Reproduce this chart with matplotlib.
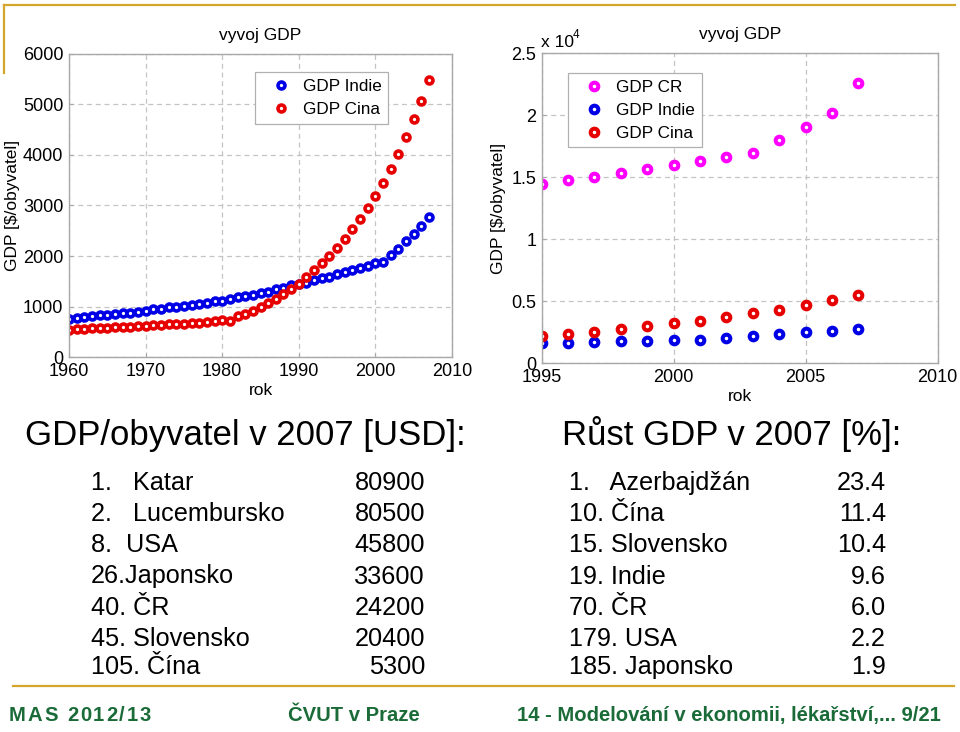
import numpy as np
import matplotlib
matplotlib.use("Agg")
import matplotlib.pyplot as plt
from matplotlib.font_manager import FontProperties

plt.rcParams['font.family'] = ['Liberation Sans', 'DejaVu Sans']

# ---- data: left chart (1960-2007) ----
years_long = list(range(1960, 2008))
gdp_indie_long = [764, 770, 790, 810, 830, 830, 850, 870, 883, 896,
                  909, 955, 962, 988, 995, 1021, 1027, 1047, 1080, 1106,
                  1120, 1146, 1185, 1212, 1232, 1265, 1297, 1350, 1376, 1423,
                  1456, 1469, 1521, 1567, 1594, 1646, 1686, 1719, 1758, 1798,
                  1857, 1890, 2022, 2147, 2292, 2443, 2601, 2779]
gdp_cina_long = [540, 553, 560, 573, 573, 580, 593, 600, 606, 612,
                 626, 632, 645, 652, 659, 665, 678, 685, 698, 711,
                 731, 718, 817, 856, 915, 995, 1067, 1159, 1258, 1357,
                 1442, 1594, 1719, 1857, 2002, 2154, 2338, 2529, 2727, 2957,
                 3188, 3438, 3721, 4024, 4347, 4702, 5071, 5480]

# ---- data: right chart (1995-2007) ----
years_short = list(range(1995, 2008))
gdp_cr = [14460, 14760, 15050, 15350, 15650, 16020, 16320, 16610, 16960,
          18010, 19030, 20190, 22630]
gdp_indie = [1670, 1670, 1750, 1830, 1830, 1880, 1910, 2040, 2200,
             2370, 2500, 2630, 2770]
gdp_cina = [2200, 2370, 2550, 2800, 3040, 3230, 3440, 3760, 4030,
            4330, 4700, 5080, 5510]

# ---- tables ----
rank_usd = ["1.   Katar", "2.   Lucembursko", "8.  USA", "26.Japonsko",
            "40. ČR", "45. Slovensko", "105. Čína"]
val_usd = ["80900", "80500", "45800", "33600", "24200", "20400", "5300"]
rank_pct = ["1.   Azerbajdžán", "10. Čína", "15. Slovensko", "19. Indie",
            "70. ČR", "179. USA", "185. Japonsko"]
val_pct = ["23.4", "11.4", "10.4", "9.6", "6.0", "2.2", "1.9"]

W, H = 960, 732
fig = plt.figure(figsize=(W / 100, H / 100), dpi=100)


def fx(x):
    return x / W


def fy(y):
    return 1 - y / H


BLUE = "#0000e6"
RED = "#e60000"
MAG = "#ff00ff"
GRID = "#c4c4c4"
SPINE = "#a8a8a8"


def style_axes(ax):
    for s in ax.spines.values():
        s.set_color(SPINE)
        s.set_linewidth(1.0)
    ax.grid(True, color=GRID, linestyle=(0, (4, 3)), linewidth=0.9)
    ax.tick_params(direction="in", length=3, color=SPINE, labelsize=13,
                   pad=4)
    ax.set_axisbelow(True)


leg_kw = dict(fontsize=12.3, fancybox=False, edgecolor="#b0b0b0",
              framealpha=1, borderaxespad=0, borderpad=0.4,
              handlelength=2.2, handletextpad=0.2, labelspacing=0.45)

# left chart
ax1 = fig.add_axes([fx(69), fy(357.3), fx(383), 303.6 / H])
ax1.plot(years_long, gdp_indie_long, "o", mfc="white", mec=BLUE, ms=5,
         mew=2.6, label="GDP Indie")
ax1.plot(years_long, gdp_cina_long, "o", mfc="white", mec=RED, ms=5,
         mew=2.6, label="GDP Cina")
ax1.set_xlim(1960, 2010)
ax1.set_ylim(0, 6000)
ax1.set_xticks(range(1960, 2011, 10))
ax1.set_yticks(range(0, 6001, 1000))
style_axes(ax1)
ax1.set_title("vyvoj GDP", fontsize=12.5, pad=10)
ax1.set_xlabel("rok", fontsize=12.5, labelpad=2.5)
ax1.set_ylabel("GDP [$/obyvatel]", fontsize=12.5, labelpad=2)
leg1 = ax1.legend(loc="upper right", bbox_to_anchor=(0.834, 0.939), **leg_kw)
leg1.get_frame().set_linewidth(0.9)

# right chart
ax2 = fig.add_axes([fx(541.7), fy(363.3), fx(396), 310 / H])
ax2.plot(years_short, np.array(gdp_cr) / 1e4, "o", mfc="white", mec=MAG,
         ms=5.5, mew=2.9, label="GDP CR")
ax2.plot(years_short, np.array(gdp_indie) / 1e4, "o", mfc="white", mec=BLUE,
         ms=5.5, mew=2.9, label="GDP Indie")
ax2.plot(years_short, np.array(gdp_cina) / 1e4, "o", mfc="white", mec=RED,
         ms=5.5, mew=2.9, label="GDP Cina")
ax2.set_xlim(1995, 2010)
ax2.set_ylim(0, 2.5)
ax2.set_xticks(range(1995, 2011, 5))
ax2.set_yticks([0, 0.5, 1, 1.5, 2, 2.5])
ax2.set_yticklabels(["0", "0.5", "1", "1.5", "2", "2.5"])
style_axes(ax2)
ax2.set_title("vyvoj GDP", fontsize=12.5, pad=10)
ax2.set_xlabel("rok", fontsize=12.5, labelpad=2.5)
ax2.set_ylabel("GDP [$/obyvatel]", fontsize=12.5, labelpad=4)
leg2 = ax2.legend(loc="upper left", bbox_to_anchor=(0.067, 0.935), **leg_kw)
leg2.get_frame().set_linewidth(0.9)
fig.text(fx(541), fy(47), "x 10", fontsize=12.5, va="baseline")
fig.text(fx(573), fy(38), "4", fontsize=8.5, va="baseline")

# tables
fig.text(fx(25), fy(445), "GDP/obyvatel v 2007 [USD]:", fontsize=25,
         va="baseline")
fig.text(fx(562), fy(445), "Růst GDP v 2007 [%]:", fontsize=25,
         va="baseline")
rows_y = [490, 521, 552, 583.5, 615, 646, 674]
for yb, name, v in zip(rows_y, rank_usd, val_usd):
    fig.text(fx(91), fy(yb), name, fontsize=18.2, va="baseline")
    fig.text(fx(425), fy(yb), v, fontsize=18.2, va="baseline", ha="right")
for yb, name, v in zip(rows_y, rank_pct, val_pct):
    fig.text(fx(569), fy(yb), name, fontsize=18.2, va="baseline")
    fig.text(fx(886), fy(yb), v, fontsize=18.2, va="baseline", ha="right")

# slide decoration
GOLD = "#d2a72c"
fig.add_artist(plt.Line2D([fx(4), fx(4)], [fy(5), fy(73)], color=GOLD, lw=1.6))
fig.add_artist(plt.Line2D([fx(4), fx(955)], [fy(5), fy(5)], color=GOLD, lw=1.6))
fig.add_artist(plt.Line2D([fx(13), fx(954)], [fy(686), fy(686)], color=GOLD,
                          lw=1.6))

# footer
GREEN = "#1a6b38"
foot_fp = FontProperties(family=['Liberation Sans', 'DejaVu Sans'],
                         weight="bold", size=14.6)
renderer = fig.canvas.get_renderer()
mas = "MAS 2012/13"
x0, extra = 9, 1.8
for i, ch in enumerate(mas):
    if i:
        w = renderer.get_text_width_height_descent(mas[:i], foot_fp, ismath=False)[0]
    else:
        w = 0
    fig.text(fx(x0 + w + extra * i), fy(721), ch, fontproperties=foot_fp,
             color=GREEN, va="baseline")
fig.text(fx(288), fy(721), "ČVUT v Praze", fontproperties=foot_fp,
         color=GREEN, va="baseline")
fig.text(fx(517), fy(721), "14 - Modelování v ekonomii, lékařství,... 9/21",
         fontproperties=foot_fp, color=GREEN, va="baseline")

fig.savefig("out.png", dpi=100)
